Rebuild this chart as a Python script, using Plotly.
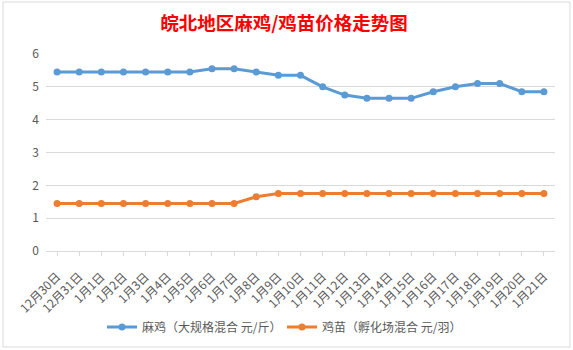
import plotly.graph_objects as go

categories = ["12月30日", "12月31日"] + [f"1月{d}日" for d in range(1, 22)]
maji = [5.45, 5.45, 5.45, 5.45, 5.45, 5.45, 5.45, 5.55, 5.55, 5.45, 5.35, 5.35,
        5.0, 4.75, 4.65, 4.65, 4.65, 4.85, 5.0, 5.1, 5.1, 4.85, 4.85]
jimiao = [1.45, 1.45, 1.45, 1.45, 1.45, 1.45, 1.45, 1.45, 1.45, 1.65, 1.75, 1.75,
          1.75, 1.75, 1.75, 1.75, 1.75, 1.75, 1.75, 1.75, 1.75, 1.75, 1.75]
names = ["麻鸡（大规格混合 元/斤）", "鸡苗（孵化场混合 元/羽）"]
colors = ["#5B9BD5", "#ED7D31"]
yticks = [0, 1, 2, 3, 4, 5, 6]

W, H = 573, 350
ml, mr, mt, mb = 46, 18, 54, 99
pw, ph = W - ml - mr, H - mt - mb

fig = go.Figure()
for name, vals, c in zip(names, [maji, jimiao], colors):
    fig.add_trace(go.Scatter(
        x=list(range(len(categories))), y=vals, name=name, mode="lines+markers",
        line=dict(color=c, width=3), marker=dict(color=c, size=7),
    ))

font = "Noto Sans CJK SC, sans-serif"
fig.update_layout(
    width=W, height=H, margin=dict(l=ml, r=mr, t=mt, b=mb, autoexpand=False),
    paper_bgcolor="white", plot_bgcolor="white",
    font=dict(family=font, color="#595959", size=12),
    title=dict(text="<b>皖北地区麻鸡/鸡苗价格走势图</b>", x=284 / W, xanchor="center",
               y=1 - 24 / H, yanchor="middle",
               font=dict(family=font, size=18.5, color="#FF0000")),
    showlegend=True,
    legend=dict(orientation="h", x=102 / W, xanchor="left", xref="container",
                y=1 - 327 / H, yref="container", yanchor="middle",
                font=dict(size=12, color="#595959"), itemwidth=30,
                entrywidth=135, entrywidthmode="pixels"),
    xaxis=dict(
        tickmode="array", tickvals=list(range(len(categories))), ticktext=categories,
        range=[-0.5, len(categories) - 0.5], tickangle=-45, showgrid=False,
        showline=True, linecolor="#d9d9d9", linewidth=1, automargin=False,
        ticks="outside", ticklen=4, tickcolor="#d9d9d9", tickson="boundaries",
        tickfont=dict(size=12, color="#595959"), zeroline=False,
        ticklabelstandoff=9,
    ),
    yaxis=dict(
        range=[0, 6], tickvals=yticks, showgrid=True, gridcolor="#d9d9d9", gridwidth=1,
        zeroline=False, showline=False, tickfont=dict(size=12, color="#595959"),
        ticks="", automargin=False, ticklabelstandoff=6,
    ),
    shapes=[dict(type="rect", xref="paper", yref="paper",
                 x0=(3 - ml) / pw, x1=(570 - ml) / pw,
                 y0=(H - mb - 347) / ph, y1=(H - mb - 2) / ph,
                 line=dict(color="#d9d9d9", width=1), layer="below")],
)

fig.write_html("out.html")
